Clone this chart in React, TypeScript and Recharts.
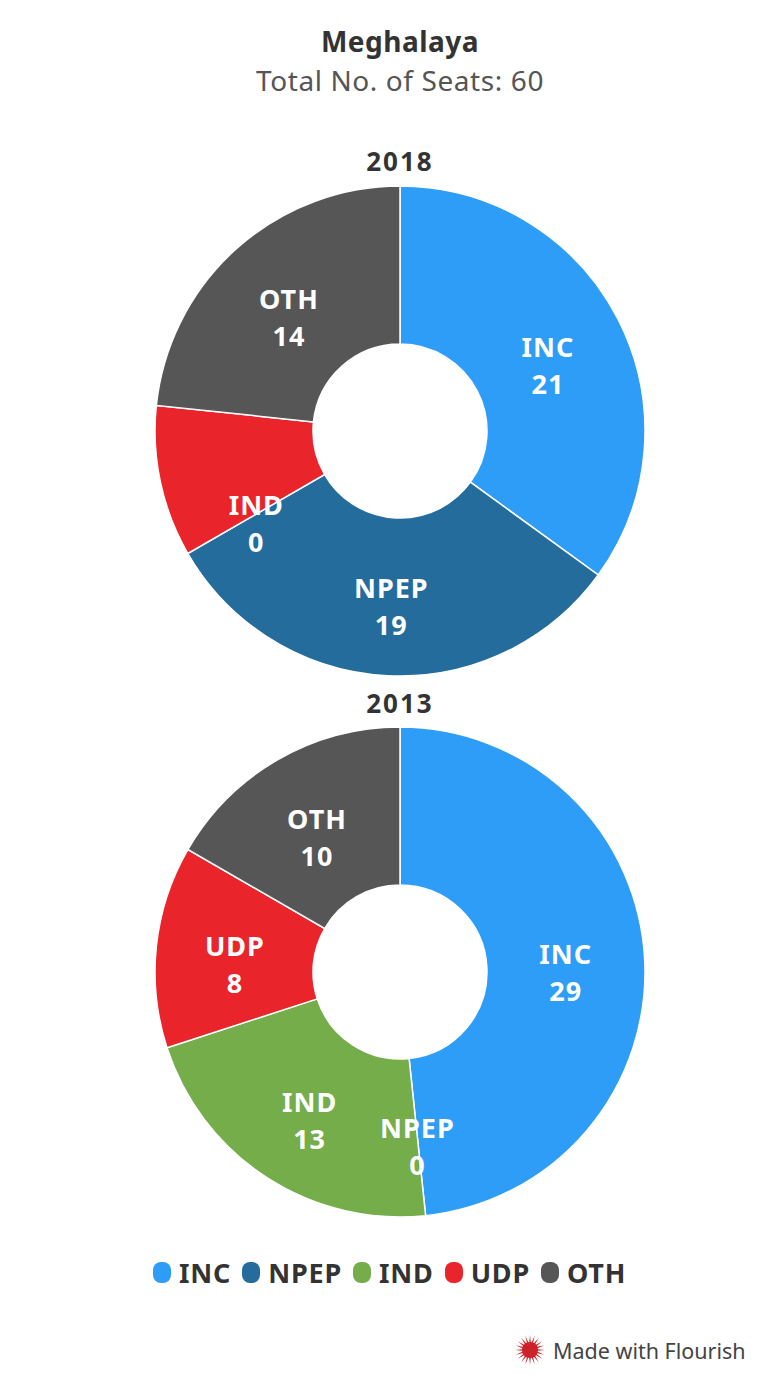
import React from "react";
import { PieChart, Pie, Cell } from "recharts";

// Meghalaya assembly seats, two election years
const parties = ["INC", "NPEP", "IND", "UDP", "OTH"];
const partyColors = ["#2e9df7", "#246c9c", "#74ad4a", "#e9242a", "#565656"];
const seats2018 = [21, 19, 0, 6, 14];
const seats2013 = [29, 0, 13, 8, 10];
// Flourish drops labels that collide with a neighbour
const hidden2018 = ["UDP"];
const hidden2013: string[] = [];

const FONT = "'Noto Sans', 'Open Sans', sans-serif";
const RAD = Math.PI / 180;

function toRows(values: number[]) {
  return parties.map((name, i) => ({ name, value: values[i] }));
}

function makeLabel(hidden: string[]) {
  return (props: any) => {
    const { cx, cy, midAngle, innerRadius, outerRadius, value } = props;
    const name = props.payload?.name ?? props.name;
    if (hidden.includes(name)) return null;
    const r = (innerRadius + outerRadius) / 2;
    const x = cx + r * Math.cos(-midAngle * RAD);
    const y = cy + r * Math.sin(-midAngle * RAD);
    return (
      <text
        x={x}
        y={y}
        fill="#fff"
        textAnchor="middle"
        dominantBaseline="central"
        style={{ fontFamily: FONT, fontWeight: 700, fontSize: 27, letterSpacing: 1 }}
      >
        <tspan x={x} y={y - 10}>{name}</tspan>
        <tspan x={x} y={y + 27}>{value}</tspan>
      </text>
    );
  };
}

function Flourish() {
  const rays = Array.from({ length: 20 });
  return (
    <svg width={32} height={32} viewBox="-16 -16 32 32">
      {rays.map((_, i) => {
        const a = (i * 360) / 20;
        return (
          <path key={i} d="M -1.5 0 L 0 -15 L 1.5 0 Z" fill="#cc2229" transform={`rotate(${a})`} />
        );
      })}
      <circle r={8} fill="#cc2229" />
    </svg>
  );
}

export default function App() {
  const center = (top: number, size: number, weight: number, color: string, spacing = 0) => ({
    position: "absolute" as const,
    left: 0,
    width: 800,
    top: top - size * 0.7,
    textAlign: "center" as const,
    fontFamily: FONT,
    fontSize: size,
    lineHeight: `${size * 1.4}px`,
    fontWeight: weight,
    letterSpacing: spacing,
    color,
  });

  const margin = { top: 0, right: 0, bottom: 0, left: 0 };

  return (
    <div style={{ position: "absolute", left: 0, top: 0, width: 759, height: 1392, background: "#fff" }}>
      <div style={center(42, 28, 700, "#333", 0.5)}>Meghalaya</div>
      <div style={center(81, 28, 400, "#555", 0.6)}>Total No. of Seats: 60</div>
      <div style={center(161, 26, 700, "#333", 2)}>2018</div>
      <div style={center(703, 26, 700, "#333", 2)}>2013</div>

      <div style={{ position: "absolute", left: 0, top: 0 }}>
        <PieChart width={759} height={1240} margin={margin}>
          <Pie
            data={toRows(seats2018)}
            dataKey="value"
            nameKey="name"
            cx={400}
            cy={431}
            startAngle={90}
            endAngle={-270}
            innerRadius={87}
            outerRadius={245}
            stroke="#fff"
            strokeWidth={1.5}
            labelLine={false}
            label={makeLabel(hidden2018)}
            isAnimationActive={false}
          >
            {parties.map((p, i) => (
              <Cell key={p} fill={partyColors[i]} />
            ))}
          </Pie>
          <Pie
            data={toRows(seats2013)}
            dataKey="value"
            nameKey="name"
            cx={400}
            cy={972}
            startAngle={90}
            endAngle={-270}
            innerRadius={87}
            outerRadius={245}
            stroke="#fff"
            strokeWidth={1.5}
            labelLine={false}
            label={makeLabel(hidden2013)}
            isAnimationActive={false}
          >
            {parties.map((p, i) => (
              <Cell key={p} fill={partyColors[i]} />
            ))}
          </Pie>
        </PieChart>
      </div>

      <div
        style={{
          position: "absolute",
          left: 153,
          top: 1254,
          display: "flex",
          alignItems: "center",
          fontFamily: FONT,
          fontWeight: 700,
          fontSize: 27,
          letterSpacing: 0.8,
          color: "#333",
        }}
      >
        {parties.map((p, i) => (
          <div key={p} style={{ display: "flex", alignItems: "center", marginRight: 11 }}>
            <span
              style={{
                display: "inline-block",
                width: 18,
                height: 21,
                borderRadius: 8,
                background: partyColors[i],
                marginRight: 8,
              }}
            />
            <span>{p}</span>
          </div>
        ))}
      </div>

      <div
        style={{
          position: "absolute",
          left: 514,
          top: 1334,
          display: "flex",
          alignItems: "center",
          fontFamily: FONT,
          fontSize: 21.5,
          color: "#444",
        }}
      >
        <Flourish />
        <span style={{ marginLeft: 7 }}>Made with Flourish</span>
      </div>
    </div>
  );
}
